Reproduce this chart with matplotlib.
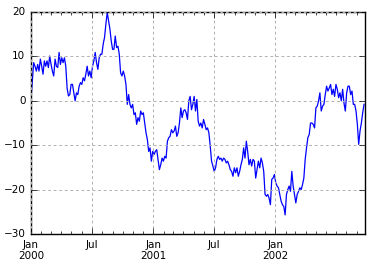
import matplotlib
matplotlib.use("Agg")
import matplotlib.pyplot as plt
import matplotlib.dates as mdates
import pandas as pd

plt.style.use("classic")
plt.rcParams["font.size"] = 7.5

# values, one every 4 days from 2000-01-01
seg1 = [0.3, 4.5, 8.6, 7.8, 6.7, 8.2, 6.7, 9.4, 7.8, 6.0,
        9.0, 7.8, 9.0, 7.5, 10.1, 8.2, 6.7, 5.6, 9.4, 7.8,
        7.5, 10.9, 8.2, 9.7, 8.6, 9.7, 7.8, 2.9, 1.1, 1.4,
        3.7, 3.7, 1.8, 0.0, 1.8, 1.4, 3.3, 4.1, 3.7, 5.2,
        4.5, 6.0, 7.8, 5.6, 6.7, 5.2, 7.8, 9.0, 10.9, 8.6,
        7.1, 9.7, 10.5, 10.5, 12.8, 14.3, 17.3, 19.9, 18.0, 16.2,
        13.5, 11.6]
seg2 = [11.6, 14.6, 12.0, 12.3, 10.5, 6.3, 5.6, 6.7, 5.6, 3.7,
        -0.8, 1.4, -0.8, -1.6, -0.8, -3.1, -2.7, -5.3, -3.8, -4.6,
        -2.3, -3.1, -2.7, -5.0, -7.2, -8.7, -11.4, -10.6, -13.6, -11.4,
        -12.1, -11.4, -11.0, -13.2, -15.5, -14.4, -12.9, -13.6, -12.5, -12.9,
        -9.1, -8.3, -8.0, -6.5, -7.2, -6.8, -5.7, -8.0, -7.2, -5.0,
        -1.6, -3.8, -2.3]
seg3 = [-2.0, -2.7, -4.2, 0.0, 1.0, -2.0, -0.8, 1.0, -2.3, 0.3,
        -4.6, -5.7, -5.0, -6.1, -4.2, -5.3, -6.5, -6.1, -7.2, -10.2,
        -13.6, -14.7, -15.9, -15.1, -13.2, -12.5, -13.2, -12.9, -13.6, -12.9,
        -13.2, -14.0, -13.6, -14.4, -15.5, -15.9, -17.0, -15.1, -16.2, -15.1,
        -17.0, -15.9, -14.4, -13.2, -10.6, -12.9, -9.1, -11.4, -14.4, -13.2,
        -14.7, -13.2, -13.6, -17.4, -15.5, -13.6, -15.1, -12.9, -14.0, -15.9]
seg4 = [-21.1, -21.5, -21.1, -21.9, -23.4, -17.7, -17.4, -16.6, -18.5, -19.2,
        -19.6, -21.1, -22.6, -23.4, -23.8, -25.7, -21.1, -20.0, -19.2, -20.4,
        -15.9, -19.2, -21.1, -23.0, -21.1, -20.4, -19.6, -20.0, -18.9, -17.4,
        -13.2, -10.6, -8.3, -7.6, -5.0, -5.0, -5.3, -6.1, -1.6, -1.2,
        0.0, 1.8, -2.3, -1.2, -0.8, 1.4, 3.3, 2.2, 2.9, 3.7,
        1.4, 2.6, 1.0, 3.7, 2.6, 0.7, 1.8, 0.0, 2.6, -0.5,
        -2.3, 1.8, 3.3, 3.3, 1.4, 2.2, -0.8, -0.8, -2.3, -5.3,
        -9.8, -6.8, -5.0, -2.7, -0.8]

values = seg1 + seg2 + seg3 + seg4
dates = pd.date_range("2000-01-01", periods=len(values), freq="4D")

tick_dates = pd.to_datetime(["2000-01-01", "2000-07-01", "2001-01-01",
                             "2001-07-01", "2002-01-01"])
tick_labels = ["Jan\n2000", "Jul", "Jan\n2001", "Jul", "Jan\n2002"]

fig = plt.figure(figsize=(3.72, 2.68), dpi=100, facecolor="white")
ax = fig.add_axes([0.0833, 0.127, 0.898, 0.828])
ax.plot(dates, values, color="b", linewidth=0.9)
ax.set_xlim(pd.Timestamp("2000-01-01"), pd.Timestamp("2002-09-26"))
ax.set_ylim(-30, 20)

ax.xaxis.set_major_locator(matplotlib.ticker.FixedLocator(mdates.date2num(tick_dates)))
ax.xaxis.set_major_formatter(matplotlib.ticker.FixedFormatter(tick_labels))
ax.xaxis.set_minor_locator(mdates.MonthLocator())
ax.set_yticks([-30, -20, -10, 0, 10, 20])
ax.tick_params(axis="x", which="minor", length=2)

ax.grid(True, color="#b0b0b0", linestyle=(0, (2, 2)), linewidth=0.7)

fig.savefig("out.png", dpi=100, facecolor="white")
